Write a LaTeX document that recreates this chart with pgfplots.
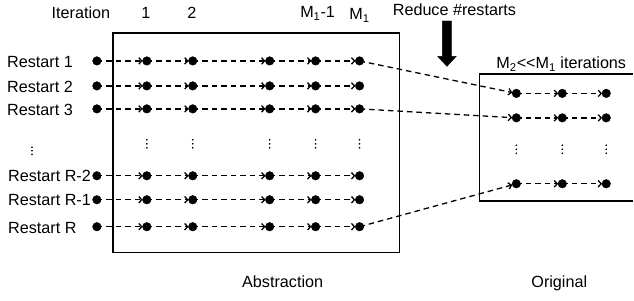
\documentclass[border=0pt]{standalone}
\usepackage{pgfplots}
\pgfplotsset{compat=1.18}
\usetikzlibrary{arrows.meta}
\usepackage{fontspec}
\setmainfont{Liberation Sans}
\begin{document}
\fontsize{16.2}{19}\selectfont
\begin{tikzpicture}[every node/.append style={font=\fontsize{16.2}{19}\selectfont}]
\begin{axis}[
  scale only axis, width=634pt, height=301pt,
  xmin=0, xmax=634, ymin=0, ymax=301, y dir=reverse,
  hide axis, clip=false,
  seg/.style={black, line width=1.3pt, dash pattern=on 5.5pt off 4pt, no marks,
    -{Straight Barb[length=3pt,width=6.5pt]}, shorten >=4.2pt},
  dots/.style={black, only marks, mark=*, mark size=4.3pt, mark options={solid}},
  ell/.style={black, only marks, mark=*, mark size=0.6pt},
  box/.style={black, line width=1.6pt, no marks},
]
\addplot[draw=none, forget plot] coordinates {(0,0) (634,301)};

% boxes
\addplot[box] coordinates {(113,33) (400,33) (400,253) (113,253)} -- cycle;
\addplot[box] coordinates {(634,74) (480,74) (480,201) (634,201)};

% big arrow
\addplot[black, fill=black, no marks] coordinates {(443,21) (452,21) (452,56.5) (456.7,56.5) (447.5,66.5) (438.3,56.5) (443,56.5)} -- cycle;

% rows in the abstraction box
\pgfplotsinvokeforeach{61,86,109,176,200,227}{
  \addplot[seg] coordinates {(97,#1) (147,#1)};
  \addplot[seg] coordinates {(147,#1) (193,#1)};
  \addplot[seg] coordinates {(193,#1) (270,#1)};
  \addplot[seg] coordinates {(270,#1) (316,#1)};
  \addplot[seg] coordinates {(316,#1) (360,#1)};
}
% rows in the original box
\pgfplotsinvokeforeach{93.5,118,184}{
  \addplot[seg] coordinates {(517,#1) (563,#1)};
  \addplot[seg] coordinates {(563,#1) (607,#1)};
}
% connectors
\addplot[seg] coordinates {(360,61) (517,93.5)};
\addplot[seg] coordinates {(360,109) (517,118)};
\addplot[seg] coordinates {(360,227) (517,184)};

% dots
\pgfplotsinvokeforeach{61,86,109,176,200,227}{
  \addplot[dots] coordinates {(97,#1) (147,#1) (193,#1) (270,#1) (316,#1) (360,#1)};
}
\pgfplotsinvokeforeach{93.5,118,184}{
  \addplot[dots] coordinates {(517,#1) (563,#1) (607,#1)};
}

% vertical ellipses
\pgfplotsinvokeforeach{147,193,270,316,360}{
  \addplot[ell] coordinates {(#1,140) (#1,144) (#1,148)};
}
\pgfplotsinvokeforeach{517,563,607}{
  \addplot[ell] coordinates {(#1,145.5) (#1,149.5) (#1,153.5)};
}
\addplot[ell] coordinates {(32,147.5) (32,151) (32,154.5)};

% texts
\node[inner sep=0pt, anchor=base] at (axis cs:81,19) {Iteration};
\node[inner sep=0pt, anchor=base] at (axis cs:146,19) {1};
\node[inner sep=0pt, anchor=base] at (axis cs:192,19) {2};
\node[inner sep=0pt, anchor=base] at (axis cs:318,17.5) {M\textsubscript{1}-1};
\node[inner sep=0pt, anchor=base] at (axis cs:360,19.5) {M\textsubscript{1}};
\node[inner sep=0pt, anchor=base] at (axis cs:455,16) {Reduce \#restarts};
\node[inner sep=0pt, anchor=base] at (axis cs:562,68.5) {M\textsubscript{2}<\kern0pt<M\textsubscript{1} iterations};
\node[inner sep=0pt, anchor=base] at (axis cs:283,288) {Abstraction};
\node[inner sep=0pt, anchor=base] at (axis cs:560,288) {Original};

\node[inner sep=0pt, anchor=base west] at (axis cs:7,67.5) {Restart 1};
\node[inner sep=0pt, anchor=base west] at (axis cs:7,92.5) {Restart 2};
\node[inner sep=0pt, anchor=base west] at (axis cs:7,115.5) {Restart 3};
\node[inner sep=0pt, anchor=base west] at (axis cs:8,182) {Restart R-2};
\node[inner sep=0pt, anchor=base west] at (axis cs:8,206) {Restart R-1};
\node[inner sep=0pt, anchor=base west] at (axis cs:8,233.5) {Restart R};
\end{axis}
\end{tikzpicture}
\end{document}
